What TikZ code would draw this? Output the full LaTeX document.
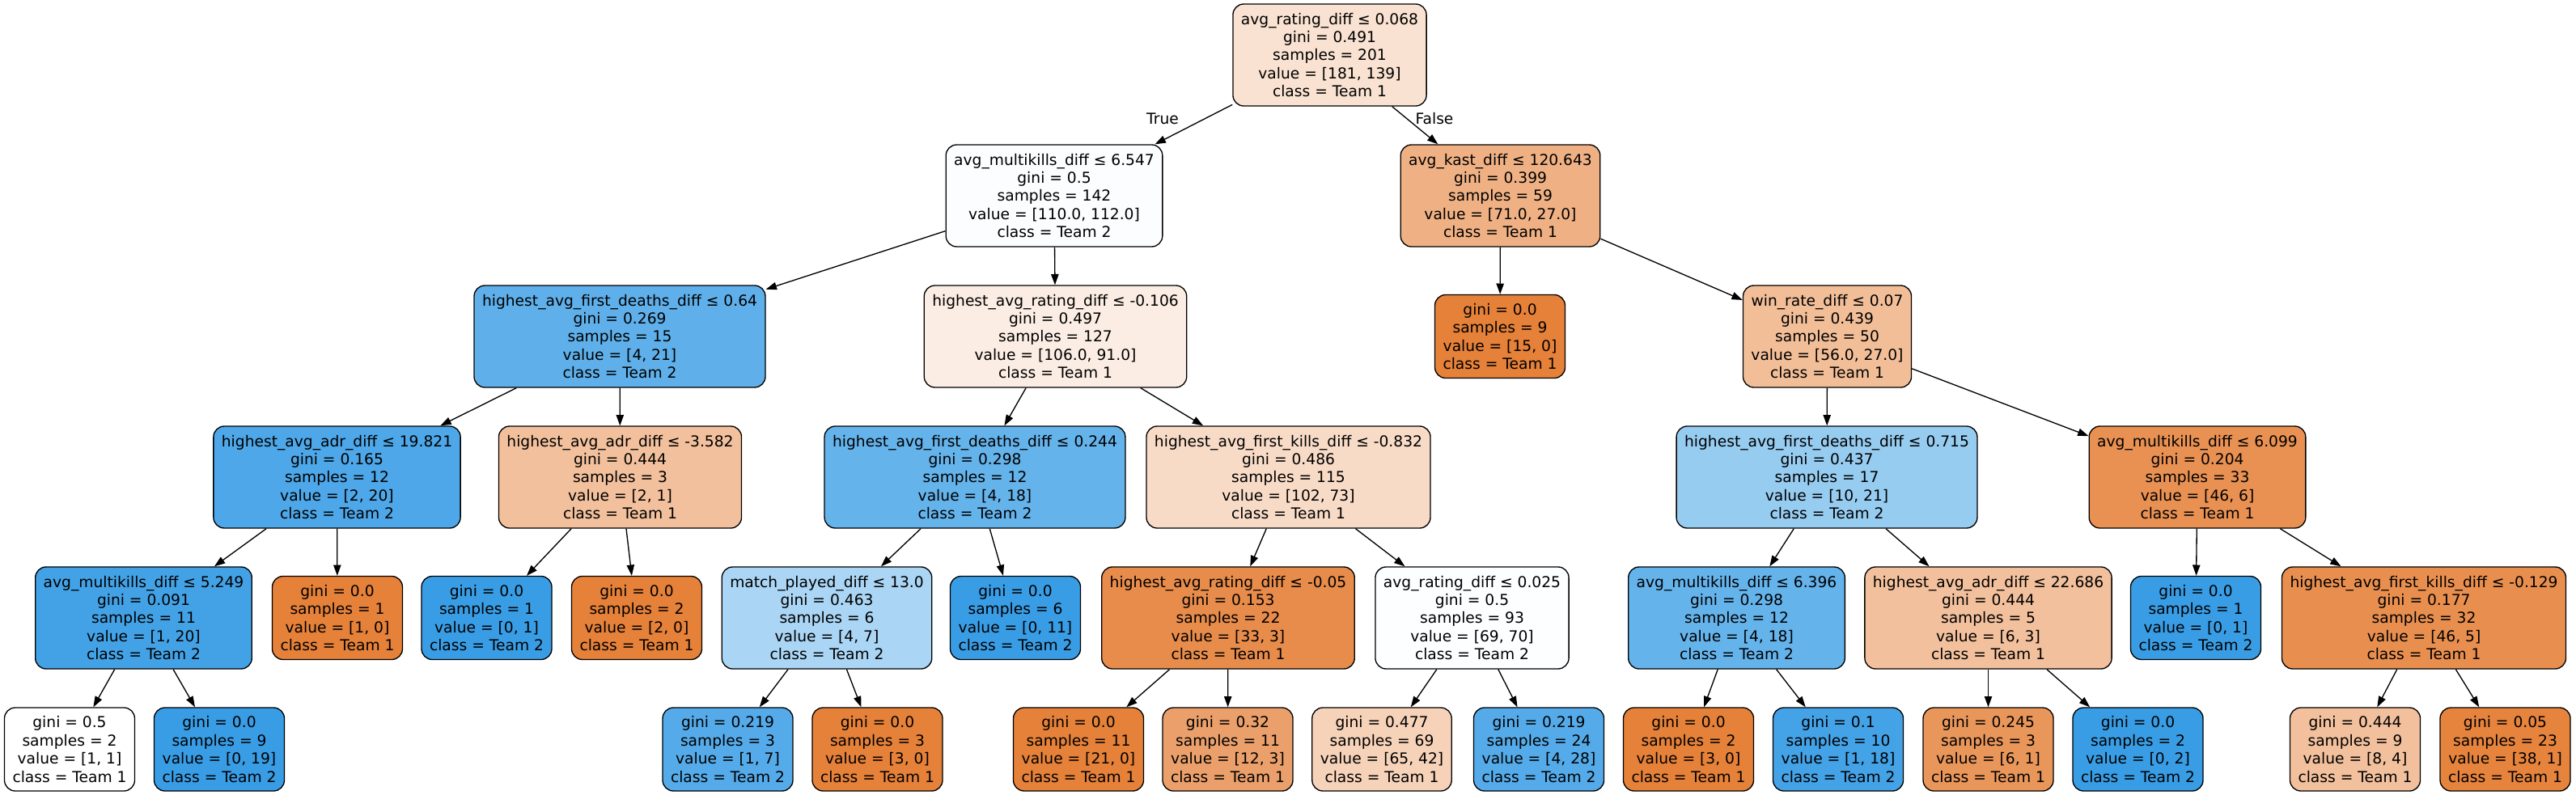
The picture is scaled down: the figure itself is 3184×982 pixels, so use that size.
\documentclass[tikz,border=0pt]{standalone}
\usepackage{fontspec}
\setmainfont{DejaVu Sans}
\usetikzlibrary{arrows.meta}
\definecolor{TA}{RGB}{229,129,57}
\definecolor{TB}{RGB}{57,157,229}
\tikzset{
  tnode/.style={draw=black, line width=1pt, rounded corners=10pt, align=center,
    inner xsep=7.5pt, inner ysep=0pt, minimum height=94.5pt,
    font=\fontsize{14pt}{16.8pt}\selectfont},
  leaf/.style={tnode, minimum height=77.25pt},
  edge/.style={draw=black, line width=1pt, -{Triangle[length=10pt,width=7pt]}},
  elabel/.style={font=\fontsize{14pt}{16.8pt}\selectfont, inner sep=0pt}
}
\begin{document}
\begin{tikzpicture}[x=0.75pt,y=-0.75pt]
\useasboundingbox (0,0) rectangle (3184,982);
% row 1
\node[tnode, fill=TA!23.2!white] (n0) at (1643.5,68) {avg\_rating\_diff ≤ 0.068\\gini = 0.491\\samples = 201\\value = [181, 139]\\class = Team 1};
% row 2
\node[tnode, fill=TB!1.8!white] (n1) at (1303,242) {avg\_multikills\_diff ≤ 6.547\\gini = 0.5\\samples = 142\\value = [110.0, 112.0]\\class = Team 2};
\node[tnode, fill=TA!62!white] (n2) at (1854.5,242) {avg\_kast\_diff ≤ 120.643\\gini = 0.399\\samples = 59\\value = [71.0, 27.0]\\class = Team 1};
% row 3
\node[tnode, fill=TB!81!white] (n3) at (766,416) {highest\_avg\_first\_deaths\_diff ≤ 0.64\\gini = 0.269\\samples = 15\\value = [4, 21]\\class = Team 2};
\node[tnode, fill=TA!14.2!white] (n4) at (1304.5,416) {highest\_avg\_rating\_diff ≤ -0.106\\gini = 0.497\\samples = 127\\value = [106.0, 91.0]\\class = Team 1};
\node[leaf, fill=TA] (n5) at (1854,416) {gini = 0.0\\samples = 9\\value = [15, 0]\\class = Team 1};
\node[tnode, fill=TA!51.8!white] (n6) at (2258.5,416) {win\_rate\_diff ≤ 0.07\\gini = 0.439\\samples = 50\\value = [56.0, 27.0]\\class = Team 1};
% row 4
\node[tnode, fill=TB!90!white] (n7) at (416.5,590) {highest\_avg\_adr\_diff ≤ 19.821\\gini = 0.165\\samples = 12\\value = [2, 20]\\class = Team 2};
\node[tnode, fill=TA!50!white] (n8) at (766.5,590) {highest\_avg\_adr\_diff ≤ -3.582\\gini = 0.444\\samples = 3\\value = [2, 1]\\class = Team 1};
\node[tnode, fill=TB!77.8!white] (n9) at (1205,590) {highest\_avg\_first\_deaths\_diff ≤ 0.244\\gini = 0.298\\samples = 12\\value = [4, 18]\\class = Team 2};
\node[tnode, fill=TA!28.4!white] (n10) at (1592.5,590) {highest\_avg\_first\_kills\_diff ≤ -0.832\\gini = 0.486\\samples = 115\\value = [102, 73]\\class = Team 1};
\node[tnode, fill=TB!52.4!white] (n11) at (2258,590) {highest\_avg\_first\_deaths\_diff ≤ 0.715\\gini = 0.437\\samples = 17\\value = [10, 21]\\class = Team 2};
\node[tnode, fill=TA!87!white] (n12) at (2716,590) {avg\_multikills\_diff ≤ 6.099\\gini = 0.204\\samples = 33\\value = [46, 6]\\class = Team 1};
% row 5
\node[tnode, fill=TB!95!white] (n13) at (177.5,764) {avg\_multikills\_diff ≤ 5.249\\gini = 0.091\\samples = 11\\value = [1, 20]\\class = Team 2};
\node[leaf, fill=TA] (n14) at (417,764) {gini = 0.0\\samples = 1\\value = [1, 0]\\class = Team 1};
\node[leaf, fill=TB] (n15) at (601.5,764) {gini = 0.0\\samples = 1\\value = [0, 1]\\class = Team 2};
\node[leaf, fill=TA] (n16) at (787,764) {gini = 0.0\\samples = 2\\value = [2, 0]\\class = Team 1};
\node[tnode, fill=TB!42.9!white] (n17) at (1022,764) {match\_played\_diff ≤ 13.0\\gini = 0.463\\samples = 6\\value = [4, 7]\\class = Team 2};
\node[leaf, fill=TB] (n18) at (1255,764) {gini = 0.0\\samples = 6\\value = [0, 11]\\class = Team 2};
\node[tnode, fill=TA!90.9!white] (n19) at (1518,764) {highest\_avg\_rating\_diff ≤ -0.05\\gini = 0.153\\samples = 22\\value = [33, 3]\\class = Team 1};
\node[tnode, fill=TB!1.4!white] (n20) at (1819.5,764) {avg\_rating\_diff ≤ 0.025\\gini = 0.5\\samples = 93\\value = [69, 70]\\class = Team 2};
\node[tnode, fill=TB!77.8!white] (n21) at (2146.5,764) {avg\_multikills\_diff ≤ 6.396\\gini = 0.298\\samples = 12\\value = [4, 18]\\class = Team 2};
\node[tnode, fill=TA!50!white] (n22) at (2457.5,764) {highest\_avg\_adr\_diff ≤ 22.686\\gini = 0.444\\samples = 5\\value = [6, 3]\\class = Team 1};
\node[leaf, fill=TB] (n23) at (2714,764) {gini = 0.0\\samples = 1\\value = [0, 1]\\class = Team 2};
\node[tnode, fill=TA!89.1!white] (n24) at (2996,764) {highest\_avg\_first\_kills\_diff ≤ -0.129\\gini = 0.177\\samples = 32\\value = [46, 5]\\class = Team 1};
% row 6
\node[leaf, fill=white] (n25) at (86,926.5) {gini = 0.5\\samples = 2\\value = [1, 1]\\class = Team 1};
\node[leaf, fill=TB] (n26) at (271,926.5) {gini = 0.0\\samples = 9\\value = [0, 19]\\class = Team 2};
\node[leaf, fill=TB!85.7!white] (n27) at (899.5,926.5) {gini = 0.219\\samples = 3\\value = [1, 7]\\class = Team 2};
\node[leaf, fill=TA] (n28) at (1084.5,926.5) {gini = 0.0\\samples = 3\\value = [3, 0]\\class = Team 1};
\node[leaf, fill=TA] (n29) at (1333,926.5) {gini = 0.0\\samples = 11\\value = [21, 0]\\class = Team 1};
\node[leaf, fill=TA!75!white] (n30) at (1517.5,926.5) {gini = 0.32\\samples = 11\\value = [12, 3]\\class = Team 1};
\node[leaf, fill=TA!35.4!white] (n31) at (1708,926.5) {gini = 0.477\\samples = 69\\value = [65, 42]\\class = Team 1};
\node[leaf, fill=TB!85.7!white] (n32) at (1902,926.5) {gini = 0.219\\samples = 24\\value = [4, 28]\\class = Team 2};
\node[leaf, fill=TA] (n33) at (2087,926.5) {gini = 0.0\\samples = 2\\value = [3, 0]\\class = Team 1};
\node[leaf, fill=TB!94.4!white] (n34) at (2272,926.5) {gini = 0.1\\samples = 10\\value = [1, 18]\\class = Team 2};
\node[leaf, fill=TA!83.3!white] (n35) at (2457.5,926.5) {gini = 0.245\\samples = 3\\value = [6, 1]\\class = Team 1};
\node[leaf, fill=TB] (n36) at (2642.5,926.5) {gini = 0.0\\samples = 2\\value = [0, 2]\\class = Team 2};
\node[leaf, fill=TA!50!white] (n37) at (2911,926.5) {gini = 0.444\\samples = 9\\value = [8, 4]\\class = Team 1};
\node[leaf, fill=TA!97.4!white] (n38) at (3096.5,926.5) {gini = 0.05\\samples = 23\\value = [38, 1]\\class = Team 1};
% edges
\draw[edge] (n0) -- (n1);
\draw[edge] (n0) -- (n2);
\draw[edge] (n1) -- (n3);
\draw[edge] (n1) -- (n4);
\draw[edge] (n2) -- (n5);
\draw[edge] (n2) -- (n6);
\draw[edge] (n3) -- (n7);
\draw[edge] (n3) -- (n8);
\draw[edge] (n4) -- (n9);
\draw[edge] (n4) -- (n10);
\draw[edge] (n6) -- (n11);
\draw[edge] (n6) -- (n12);
\draw[edge] (n7) -- (n13);
\draw[edge] (n7) -- (n14);
\draw[edge] (n8) -- (n15);
\draw[edge] (n8) -- (n16);
\draw[edge] (n9) -- (n17);
\draw[edge] (n9) -- (n18);
\draw[edge] (n10) -- (n19);
\draw[edge] (n10) -- (n20);
\draw[edge] (n11) -- (n21);
\draw[edge] (n11) -- (n22);
\draw[edge] (n12) -- (n23);
\draw[edge] (n12) -- (n24);
\draw[edge] (n13) -- (n25);
\draw[edge] (n13) -- (n26);
\draw[edge] (n17) -- (n27);
\draw[edge] (n17) -- (n28);
\draw[edge] (n19) -- (n29);
\draw[edge] (n19) -- (n30);
\draw[edge] (n20) -- (n31);
\draw[edge] (n20) -- (n32);
\draw[edge] (n21) -- (n33);
\draw[edge] (n21) -- (n34);
\draw[edge] (n22) -- (n35);
\draw[edge] (n22) -- (n36);
\draw[edge] (n24) -- (n37);
\draw[edge] (n24) -- (n38);
% edge labels
\node[elabel] (ltrue) at (1437,147) {True};
\node[elabel] (lfalse) at (1773,147) {False};
\end{tikzpicture}
\end{document}
